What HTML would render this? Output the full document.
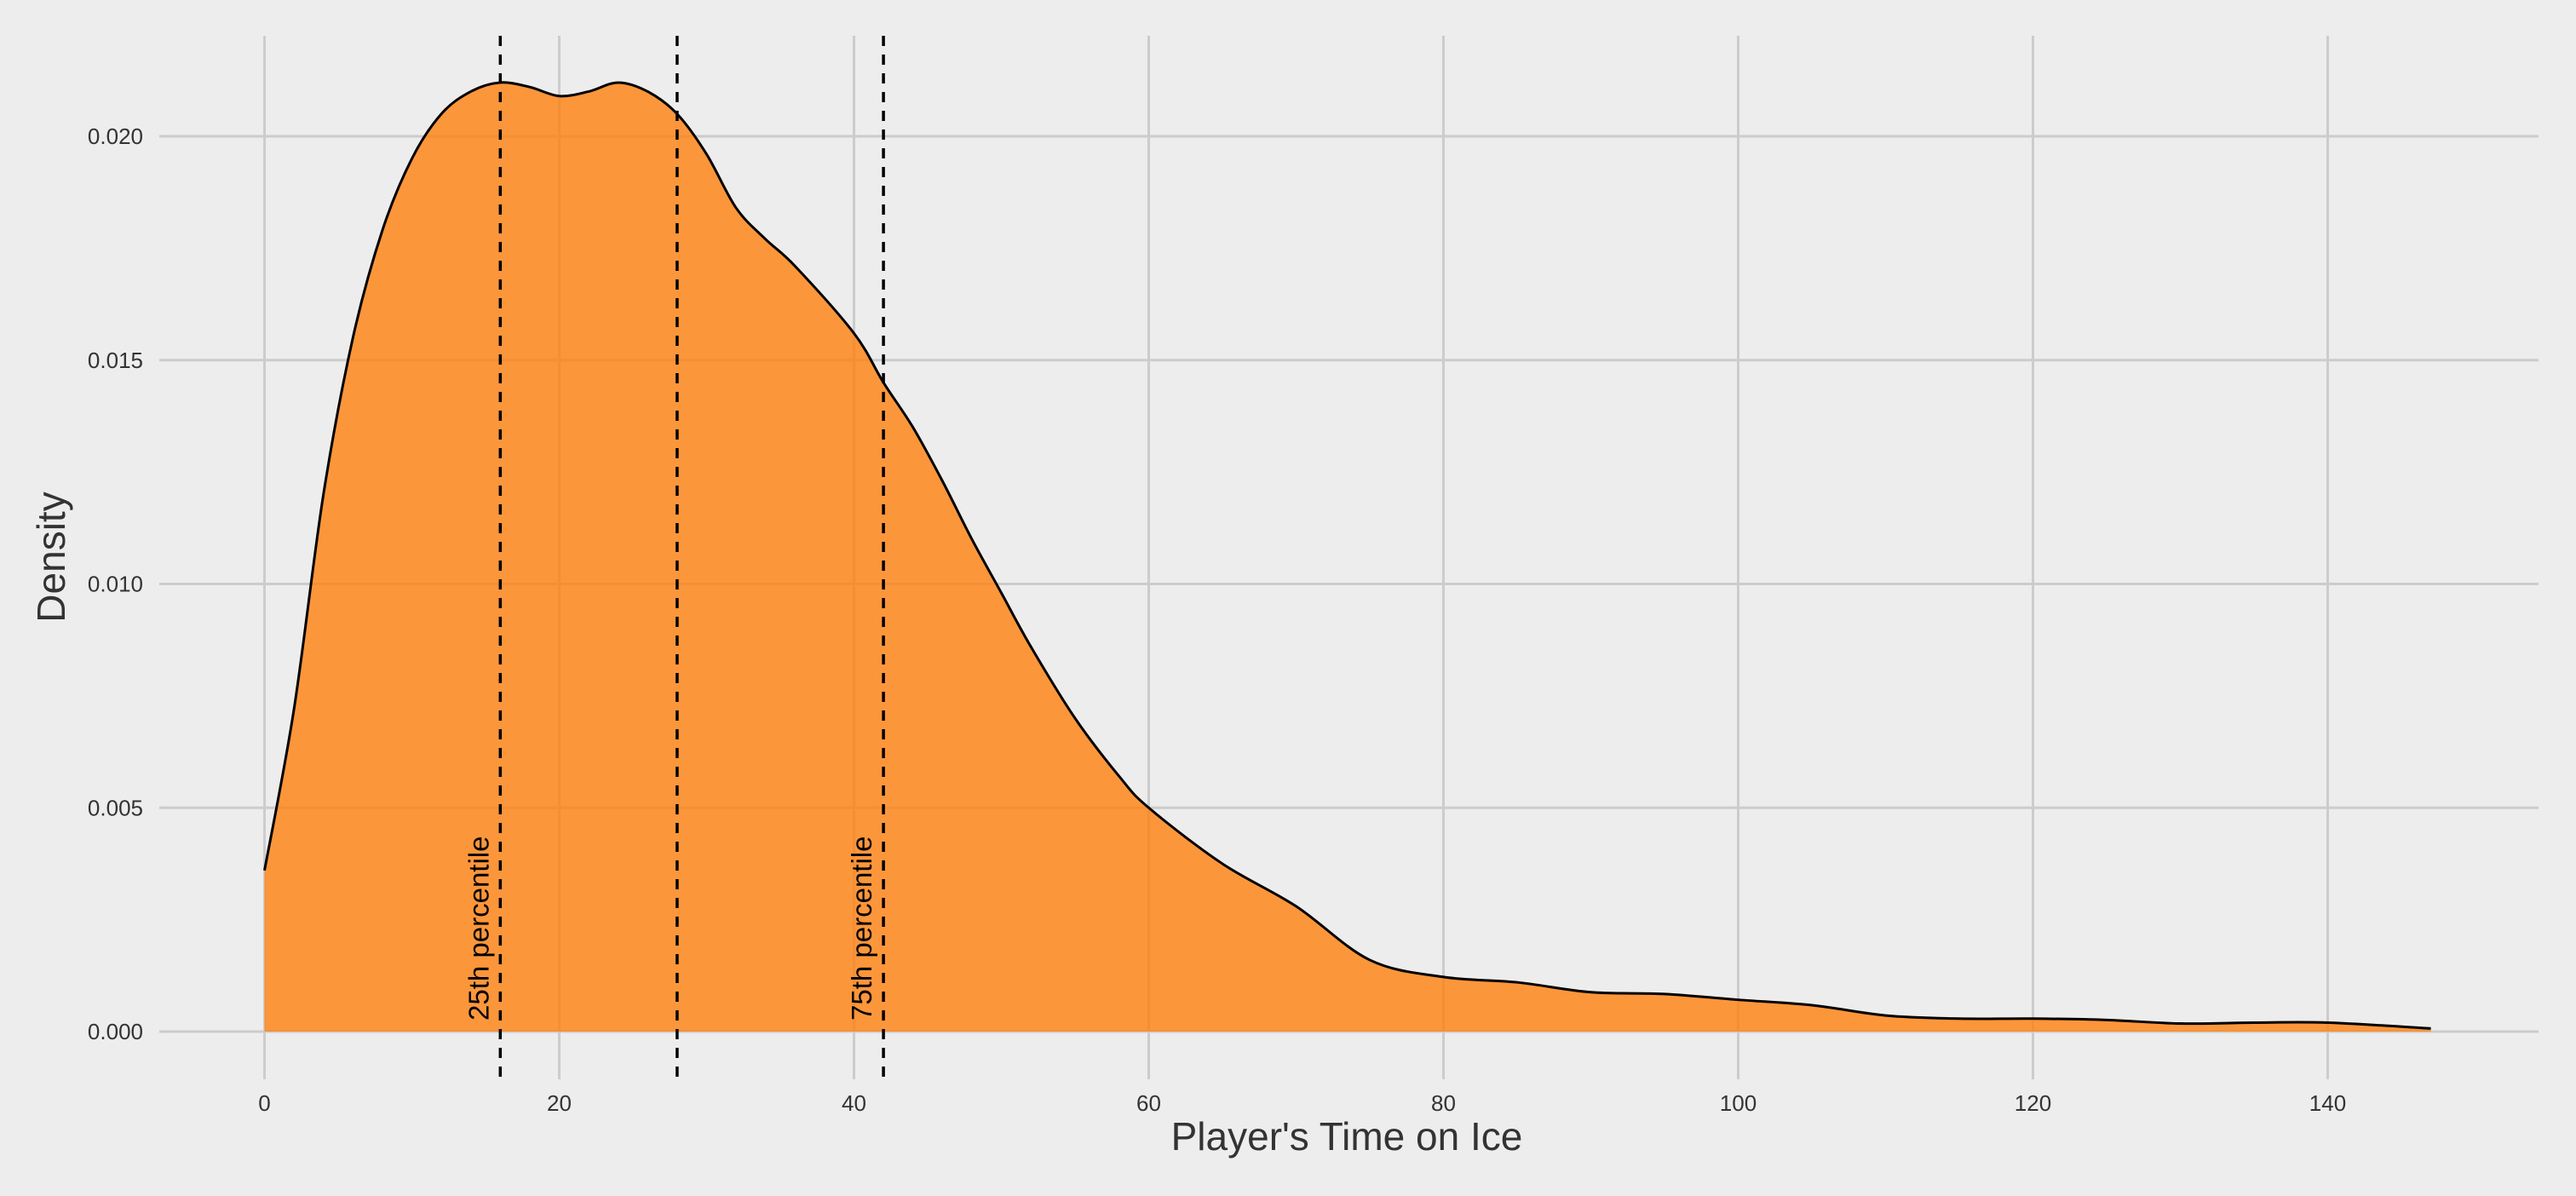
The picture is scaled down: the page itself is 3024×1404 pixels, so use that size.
<!DOCTYPE html>
<html><head><meta charset="utf-8"><style>
html,body{margin:0;padding:0;background:#ededed;}
svg{display:block;font-family:"Liberation Sans",sans-serif;}
</style></head><body>
<svg id="chart" width="3024" height="1404" viewBox="0 0 3024 1404">
<rect width="3024" height="1404" fill="#ededed"/>
<g id="grid"></g><g id="area"></g><g id="vlines"></g><g id="axes"></g>
</svg>
<script>
const xs=[0,2,4,6,8,10,12,14,16,18,20,22,24,26,28,30,32,34,36,40,42,44,46,48,50,52,55,58,60,65,70,75,80,85,90,95,100,105,110,115,120,125,130,135,140,147];
const dens=[0.0036,0.0072,0.0120,0.0155,0.0179,0.0195,0.0205,0.0210,0.0212,0.0211,0.0209,0.0210,0.0212,0.0210,0.0205,0.0196,0.0184,0.0177,0.0171,0.0156,0.0145,0.0135,0.0123,0.0110,0.0098,0.0086,0.0070,0.0057,0.0050,0.00375,0.0028,0.0016,0.00122,0.0011,0.00088,0.00084,0.00071,0.00059,0.00036,0.00029,0.00029,0.00026,0.00018,0.0002,0.0002,0.00007];
const xTicks=[0,20,40,60,80,100,120,140];
const yTicks=[0,0.005,0.01,0.015,0.02];
const yTickLabels=["0.000","0.005","0.010","0.015","0.020"];
const vlineX=[16,28,42];
const vlineLabels=["25th percentile","","75th percentile"];
const NS="http://www.w3.org/2000/svg";
const X=v=>310.5+v*17.3, Y=v=>1211-v*52550;
function mk(t,a,p){const e=document.createElementNS(NS,t);for(const k in a)e.setAttribute(k,a[k]);p.appendChild(e);return e;}
const grid=document.getElementById('grid'),area=document.getElementById('area'),vl=document.getElementById('vlines'),ax=document.getElementById('axes');
xTicks.forEach(t=>{
 const l=mk('line',{x1:X(t),x2:X(t),y1:42,y2:1267,stroke:'#cccccc','stroke-width':3},grid);
 
 
 const tx=mk('text',{x:X(t),y:1304,'text-anchor':'middle','font-size':26,fill:'#333'},ax);tx.textContent=t;
 
 
});
yTicks.forEach((t,i)=>{
 const l=mk('line',{x1:187,x2:2980,y1:Y(t),y2:Y(t),stroke:'#cccccc','stroke-width':3},grid);
 
 
 const tx=mk('text',{x:168,y:Y(t)+9,'text-anchor':'end','font-size':26,fill:'#333'},ax);tx.textContent=yTickLabels[i];
 
 
});
const pts=xs.map((x,i)=>[X(x),Y(dens[i])]);
let d='M'+pts[0][0]+','+pts[0][1];
for(let i=0;i<pts.length-1;i++){const p0=pts[Math.max(0,i-1)],p1=pts[i],p2=pts[i+1],p3=pts[Math.min(pts.length-1,i+2)];
 d+=` C${p1[0]+(p2[0]-p0[0])/6},${p1[1]+(p2[1]-p0[1])/6} ${p2[0]-(p3[0]-p1[0])/6},${p2[1]-(p3[1]-p1[1])/6} ${p2[0]},${p2[1]}`;}
const fill=mk('path',{d:d+` L${X(xs[xs.length-1])},${Y(0)} L${X(0)},${Y(0)} Z`,fill:'#ff7f0e','fill-opacity':0.8,stroke:'none'},area);


const line=mk('path',{d:d,fill:'none',stroke:'#000','stroke-width':3},area);


vlineX.forEach((v,i)=>{
 const l=mk('line',{x1:X(v),x2:X(v),y1:42,y2:1267,stroke:'#000','stroke-width':3.5,'stroke-dasharray':'12,10'},vl);
 
 
 if(vlineLabels[i]){const tx=mk('text',{x:0,y:0,'font-size':33,fill:'#000',transform:`translate(${X(v)-14},1198) rotate(-90)`},vl);tx.textContent=vlineLabels[i];
 
 }
});
const xt=mk('text',{x:1581,y:1350,'text-anchor':'middle','font-size':46,fill:'#333'},ax);xt.textContent="Player's Time on Ice";


const yt=mk('text',{x:0,y:0,'text-anchor':'middle','font-size':46,fill:'#333',transform:'translate(76,654) rotate(-90)'},ax);yt.textContent="Density";


</script>
</body></html>
